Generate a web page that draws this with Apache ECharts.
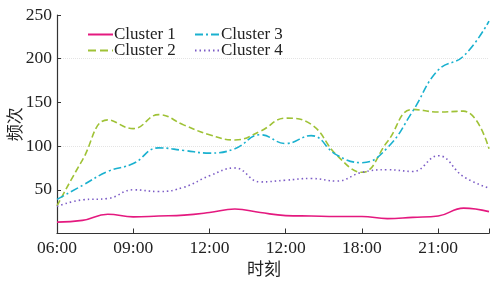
<!DOCTYPE html>
<html>
<head>
<meta charset="utf-8">
<script src="https://cdn.jsdelivr.net/npm/echarts@6/dist/echarts.min.js"></script>
<style>html,body{margin:0;padding:0;background:#fff}#c{width:491px;height:281px}</style>
</head>
<body>
<div id="c"></div>
<script>
const hours = [6,7,8,9,10,11,12,13,14,15,16,17,18,19,20,21,22,23];
const cluster1 = [13,15,22,19,20,21,24,28,24,20.5,20,19.5,19.5,17,18.5,20,29,25];
const cluster2 = [31.5,84,130,120,136,124,113,107,117,132,125,90,70,105,142,139,140,97];
const cluster3 = [39,55,71,80,98,95,92,97,113,103,112,90,81,98,140,187,203,243];
const cluster4 = [31,38.5,40,50,48,53,66,75,59,61,63,60,70,73,71,89,65,52];
const seriesNames = ['Cluster 1','Cluster 2','Cluster 3','Cluster 4'];
const xTickLabels = ['06:00','09:00','12:00','12:00','18:00','21:00'];
const yTickValues = [50,100,150,200,250];

const serif = '"Liberation Serif","Times New Roman",serif';
const cjk = '"Noto Sans CJK SC",sans-serif';
const colors = ['#e4197f','#9fc236','#1ab1cf','#7c5cc6'];
const types = ['solid','dashed',[8,3,2,3],[1.5,3]];
const values = [cluster1, cluster2, cluster3, cluster4];

const chart = echarts.init(document.getElementById('c'), null, {renderer:'canvas'});
const series = seriesNames.map((n,i)=>({
  name:n, type:'line', smooth:0.45, symbol:'none', showSymbol:false,
  data: hours.map((h,j)=>[h, values[i][j]]),
  lineStyle:{color:colors[i], width:1.6, type:types[i]},
  itemStyle:{color:colors[i]}
}));
const legendBase = {orient:'vertical', top:21, itemGap:-1, itemWidth:25, itemHeight:10,
  itemStyle:{opacity:0},
  textStyle:{fontFamily:serif, fontSize:17, color:'#222', padding:[0,0,0,-4]}};
chart.setOption({
  animation:false,
  backgroundColor:'#fff',
  grid:{left:57, top:15, right:2, bottom:47.5, containLabel:false, outerBoundsMode:'none'},
  legend:[
    Object.assign({}, legendBase, {left:82, data:['Cluster 1','Cluster 2']}),
    Object.assign({}, legendBase, {left:189, data:['Cluster 3','Cluster 4']})
  ],
  xAxis:{
    type:'value', min:6, max:23, interval:3,
    name:'时刻', nameLocation:'middle', nameGap:27, nameMoveOverlap:false,
    nameTextStyle:{fontFamily:cjk, fontSize:17, color:'#222', padding:[0,18,0,0]},
    axisLine:{show:true, lineStyle:{color:'#333', width:1.2}},
    axisTick:{show:true, inside:true, length:5, lineStyle:{color:'#333'}},
    axisLabel:{fontFamily:serif, fontSize:17.5, color:'#222', margin:6,
      formatter:(v)=>{const k=(v-6)/3; return Number.isInteger(k)&&k<xTickLabels.length?xTickLabels[k]:'';}},
    splitLine:{show:false}
  },
  yAxis:{
    type:'value', min:0, max:250, interval:50,
    name:'频次', nameLocation:'middle', nameGap:34, nameRotate:90, nameMoveOverlap:false,
    nameTextStyle:{fontFamily:cjk, fontSize:17, color:'#222'},
    axisLine:{show:true, lineStyle:{color:'#333', width:1.2}},
    axisTick:{show:true, inside:true, length:4, lineStyle:{color:'#333'}},
    axisLabel:{fontFamily:serif, fontSize:17.5, color:'#222', margin:5,
      formatter:(v)=> yTickValues.includes(v)? String(v):''},
    splitLine:{show:true, lineStyle:{type:'dotted', width:1,
      color:['rgba(0,0,0,0)','rgba(0,0,0,0)','#e4e4e4','rgba(0,0,0,0)','#e4e4e4','rgba(0,0,0,0)']}}
  },
  series: series
});
</script>
</body>
</html>
